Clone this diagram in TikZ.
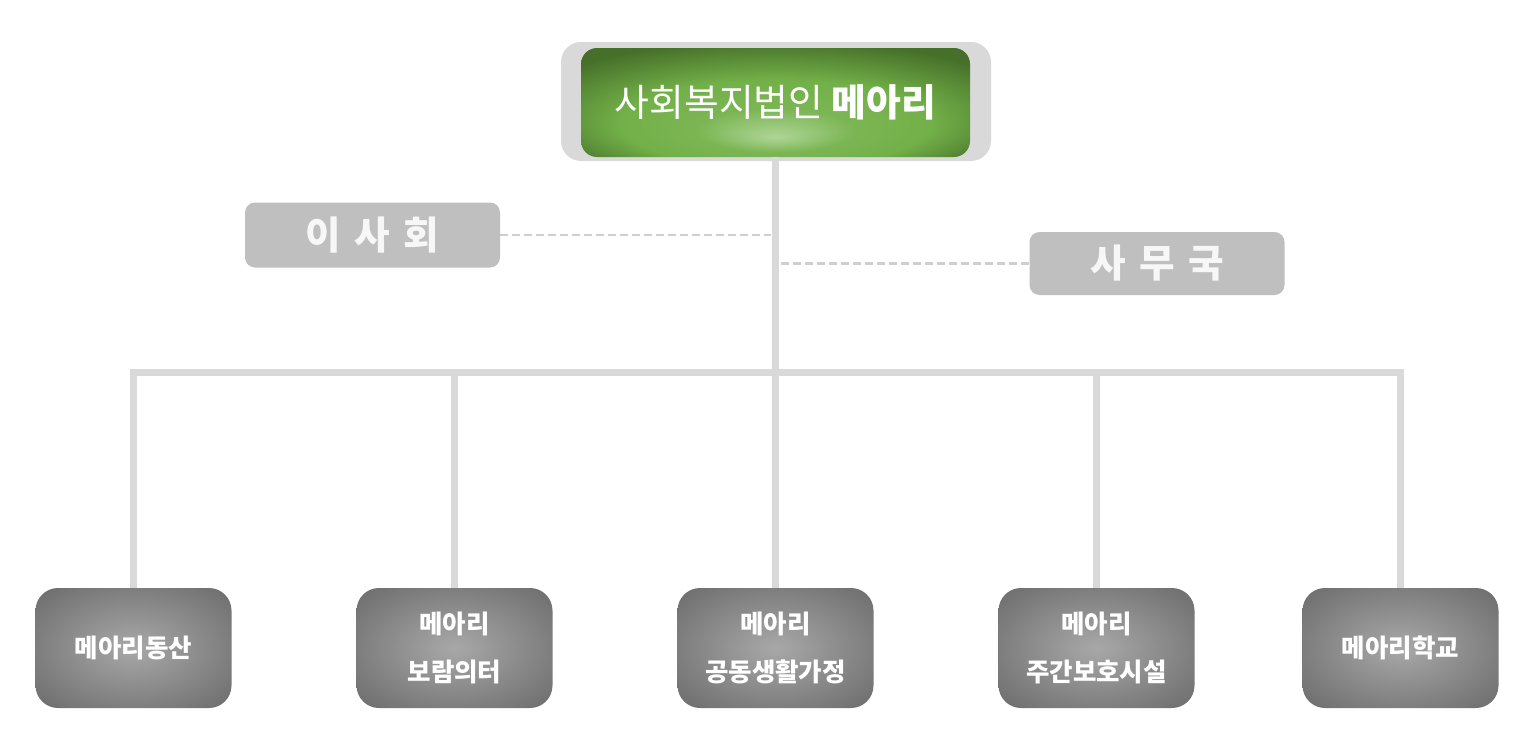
\documentclass[tikz,border=0pt]{standalone}
\usepackage{fontspec}
\setmainfont{Noto Sans CJK KR}
\usepackage{tikz}
\usetikzlibrary{calc,trees,shapes.misc}
\definecolor{linegray}{HTML}{D9D9D9}
\definecolor{dashgray}{HTML}{CFCFCF}
\definecolor{sidegray}{HTML}{BFBFBF}
\definecolor{greendark}{HTML}{466F29}
\definecolor{greenmid}{HTML}{72B048}
\definecolor{greenglow}{HTML}{AFD597}
\definecolor{boxdark}{HTML}{6E6E6E}
\definecolor{boxglow}{HTML}{A8A8A8}
\pgfdeclareradialshading{greenshade}{\pgfpoint{0bp}{-16bp}}{%
  color(0bp)=(greenglow); color(10bp)=(greenmid!85!greenglow); color(20bp)=(greenmid); color(34bp)=(greendark); color(50bp)=(greendark)}
\pgfdeclareradialshading{grayshade}{\pgfpoint{0bp}{0bp}}{%
  color(0bp)=(boxglow); color(34bp)=(boxdark); color(50bp)=(boxdark)}

\begin{document}
\begin{tikzpicture}[
  level 1/.style={level distance=10.91cm, sibling distance=6.42cm},
  edge from parent/.style={draw=linegray, line width=4pt},
  edge from parent path={(\tikzparentnode.south) |- ($(\tikzparentnode.south)!.5!(\tikzchildnode.north)$) -| (\tikzchildnode.north)},
  topframe/.style={rounded corners=0.4cm, fill=linegray, minimum width=8.6cm, minimum height=2.38cm},
  topbox/.style={rounded corners=0.32cm, shading=greenshade, minimum width=7.78cm, minimum height=2.18cm,
    text=white, font=\fontsize{21.5}{26}\selectfont},
  sidebox/.style={rounded corners=0.2cm, fill=sidegray, text=white!97!black, minimum width=5.1cm,
    minimum height=1.3cm, font=\fontsize{22}{26}\selectfont\bfseries},
  unitbox/.style={rounded corners=0.45cm, shading=grayshade, minimum width=3.92cm, minimum height=2.4cm,
    text=white, align=center, font=\fontsize{14.5}{27}\selectfont\bfseries}
  ]
  \useasboundingbox (0,0) rectangle (30.52,-14.78);
  \node[topframe] (frame) at (15.52,-2.03) {};
  % organisation tree
  \node[topbox] (top) at (15.51,-2.05) {사회복지법인 \textbf{메아리}}
    child { node[unitbox] (dongsan) {메아리동산} }
    child { node[unitbox] (boram) {메아리\\보람의터} }
    child { node[unitbox] (home) {메아리\\공동생활가정} }
    child { node[unitbox] (daycare) {메아리\\주간보호시설} }
    child { node[unitbox, xshift=-0.34cm] (school) {메아리학교} };
  % side offices
  \node[sidebox] (board) at (7.45,-4.70) {이\hspace{0.35em}사\hspace{0.35em}회};
  \node[sidebox, minimum height=1.26cm] (office) at (23.14,-5.27) {사\hspace{0.35em}무\hspace{0.35em}국};
  \draw[dashgray, line width=1.2pt, dash pattern=on 0.16cm off 0.08cm] (board.east) -- ($(board.east -| top.south)+(-0.1,0)$);
  \draw[dashgray, line width=1.2pt, dash pattern=on 0.16cm off 0.08cm] (office.west) -- ($(office.west -| top.south)+(0.1,0)$);
\end{tikzpicture}
\end{document}
